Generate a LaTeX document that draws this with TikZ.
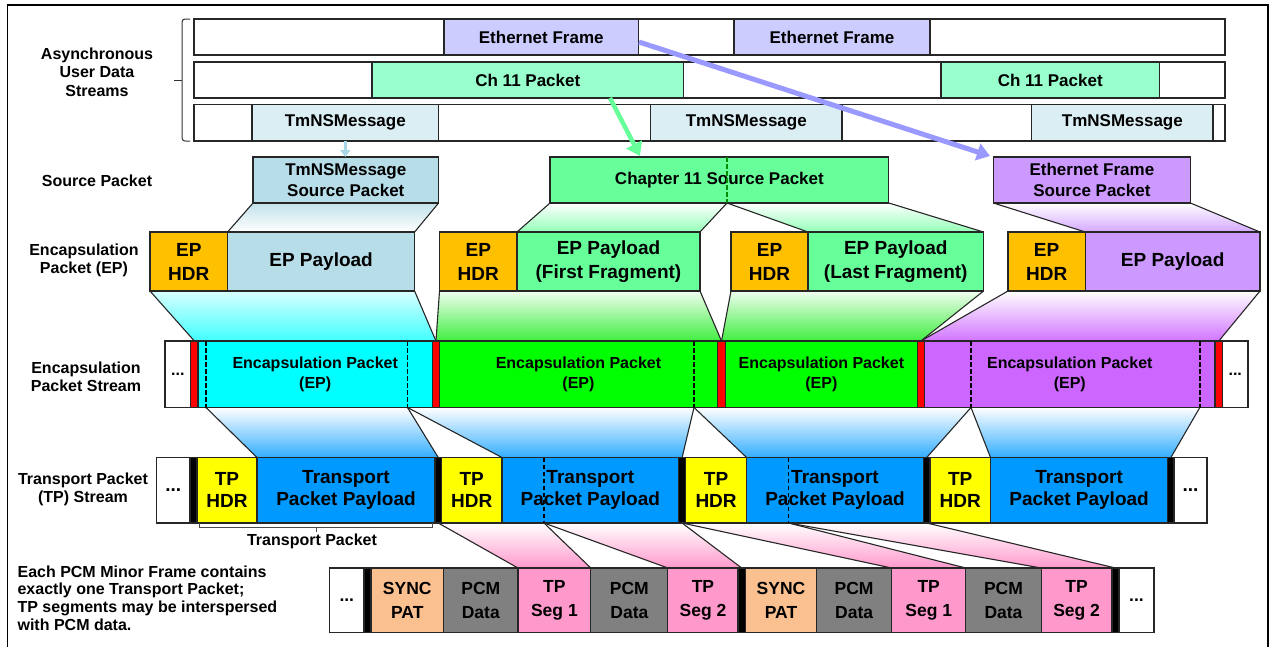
\documentclass[tikz,border=0pt]{standalone}
\usepackage{fontspec}
\setmainfont{Liberation Sans}
\usetikzlibrary{arrows.meta}
\pgfdeclarelayer{bg}
\pgfsetlayers{bg,main}
\newcommand\fszLab{\fontsize{16}{18.5}\selectfont}
\newcommand\fszTop{\fontsize{17}{21}\selectfont}
\newcommand\fszEP{\fontsize{19}{24}\selectfont}
\newcommand\fszStr{\fontsize{16}{20.5}\selectfont}
\newcommand\fszTP{\fontsize{19}{22}\selectfont}
\newcommand\fszPCM{\fontsize{17.5}{24}\selectfont}
\newcommand\fszNote{\fontsize{16}{17.6}\selectfont}
\definecolor{ethc}{HTML}{CCCCFF}
\definecolor{chc}{HTML}{99FFCC}
\definecolor{tmc}{HTML}{DBEEF4}
\definecolor{tmsc}{HTML}{B7DDE8}
\definecolor{grsc}{HTML}{66FF99}
\definecolor{pusc}{HTML}{CC99FF}
\definecolor{hdrc}{HTML}{FFC000}
\definecolor{cyanc}{HTML}{00FFFF}
\definecolor{grnc}{HTML}{00FF00}
\definecolor{grtc}{HTML}{40EE40}
\definecolor{purc}{HTML}{CC66FF}
\definecolor{redc}{HTML}{FF0000}
\definecolor{yelc}{HTML}{FFFF00}
\definecolor{bluc}{HTML}{0099FF}
\definecolor{peac}{HTML}{FAC090}
\definecolor{grac}{HTML}{808080}
\definecolor{pinc}{HTML}{FF99CC}
\definecolor{arrb}{HTML}{9999FF}
\definecolor{arrg}{HTML}{66FF99}
\definecolor{arrl}{HTML}{A8D8E8}
\newcommand\bx[8][]{\node[cell,fill=#7,minimum width={#4-#3},minimum height={#6-#5},#1] (#2) at ({(#3+#4)/2},{(#5+#6)/2}) {#8};}
\begin{document}
\begin{tikzpicture}[x=1pt,y=-1pt,
  cell/.style={draw=black!85,line width=1.1pt,inner sep=0pt,outer sep=0pt,align=center,text=black},
  lab/.style={align=center,inner sep=0pt,font=\bfseries\fszLab},
  side/.style={line width=1.1pt,draw=black!85},
  dsh/.style={line width=1.5pt,dash pattern=on 4.5pt off 2.5pt},
  fat/.style={line width=5pt,-{Triangle[length=13pt,width=17pt]}},
]
\useasboundingbox (0,0) rectangle (1276,646);
\draw[line width=1.8pt] (7.5,650) -- (7.5,5) -- (1268,5) -- (1268,650);

% ---------- asynchronous streams ----------
\begin{scope}[nodes={font=\bfseries\fszTop}]
\bx{rowA}{194}{1225}{19}{55}{white}{}
\bx{ethA}{444}{638.5}{19}{55}{ethc}{Ethernet Frame}
\bx{ethB}{734}{930}{19}{55}{ethc}{Ethernet Frame}
\bx{rowB}{194}{1225}{62}{98}{white}{}
\bx{chA}{372}{683.6}{62}{98}{chc}{Ch 11 Packet}
\bx{chB}{941}{1159.5}{62}{98}{chc}{Ch 11 Packet}
\bx{rowC}{194}{1225}{104.5}{141}{white}{}
\bx{tmA}{252}{438.6}{104.5}{141}{tmc}{TmNSMessage}
\bx{tmB}{650.6}{842}{104.5}{141}{tmc}{TmNSMessage}
\bx{tmC}{1031.7}{1213}{104.5}{141}{tmc}{TmNSMessage}
\end{scope}
\draw[line width=1pt,black!80,rounded corners=3pt] (190,19) -- (182,19) -- (182,141) -- (190,141);
\draw[line width=1pt,black!80] (182,80) -- (174,80);

% ---------- left labels ----------
\node[lab] (lasync) at (97,72) {Asynchronous\\User Data\\Streams};
\node[lab] (lsrc) at (97,180.5) {Source Packet};
\node[lab] (lep) at (84,260.5) {Encapsulation\\Packet (EP)};
\node[lab] (lstr) at (86,377) {Encapsulation\\Packet Stream};
\node[lab] (ltp) at (83,489.5) {Transport Packet\\(TP) Stream};
\node[align=left,anchor=north west,inner sep=0pt,font=\bfseries\fszNote] (lnote) at (17.4,565.5)
  {Each PCM Minor Frame contains\\exactly one Transport Packet;\\TP segments may be interspersed\\with PCM data.};

% ---------- source packets ----------
\begin{scope}[nodes={font=\bfseries\fszTop}]
\bx{srcT}{253}{438.6}{157}{203}{tmsc}{TmNSMessage\\Source Packet}
\bx{srcC}{550}{888.8}{157}{203}{grsc}{Chapter 11 Source Packet}
\bx{srcE}{993.4}{1190.4}{157}{203}{pusc}{Ethernet Frame\\Source Packet}
\end{scope}
\coordinate (splitC) at (727,203);
\draw[dsh,line width=1.1pt,color=green!55!black] (splitC |- srcC.north) -- (splitC);

% ---------- encapsulation packets ----------
\begin{scope}[nodes={font=\bfseries\fszEP}]
\bx{hdrA}{150}{227.6}{232}{291}{hdrc}{EP\\HDR}
\bx{payA}{227.6}{414.6}{232}{291}{tmsc}{EP Payload}
\bx{hdrB}{439.5}{517}{232}{291}{hdrc}{EP\\HDR}
\bx{payB}{517}{700}{232}{291}{grsc}{EP Payload\\(First Fragment)}
\bx{hdrC}{731}{808}{232}{291}{hdrc}{EP\\HDR}
\bx{payC}{808}{983.5}{232}{291}{grsc}{EP Payload\\(Last Fragment)}
\bx{hdrD}{1008}{1085.3}{232}{291}{hdrc}{EP\\HDR}
\bx{payD}{1085.3}{1260}{232}{291}{pusc}{EP Payload}
\end{scope}

% ---------- encapsulation packet stream ----------
\begin{scope}[nodes={font=\bfseries\fszStr,draw=none}]
\bx{sdotA}{165}{190.7}{341}{407.5}{white}{...}
\bx{redA}{190.7}{198}{341}{407.5}{redc}{}
\bx{epsA}{198}{432.4}{341}{407.5}{cyanc}{Encapsulation Packet\\(EP)}
\bx{redB}{432.4}{439.5}{341}{407.5}{redc}{}
\bx{epsB}{439.5}{717.4}{341}{407.5}{grnc}{Encapsulation Packet\\(EP)}
\bx{redC}{717.4}{725.6}{341}{407.5}{redc}{}
\bx{epsC}{725.6}{917.2}{341}{407.5}{grnc}{Encapsulation Packet\\(EP)}
\bx{redD}{917.2}{924.6}{341}{407.5}{redc}{}
\bx{epsD}{924.6}{1215}{341}{407.5}{purc}{Encapsulation Packet\\(EP)}
\bx{redE}{1215}{1222.5}{341}{407.5}{redc}{}
\bx{sdotB}{1222.5}{1248}{341}{407.5}{white}{...}
\end{scope}
\draw[side] (sdotA.north west) rectangle (sdotB.south east);
\coordinate (dA) at (206,407.5);
\coordinate (dB) at (407.5,407.5);
\coordinate (dC) at (694,407.5);
\coordinate (dD) at (971,407.5);
\coordinate (dE) at (1199.8,407.5);
\foreach \d in {dA,dB,dC,dD,dE} \draw[dsh] (\d |- epsA.north) -- (\d);

% ---------- transport packet stream ----------
\begin{scope}[nodes={font=\bfseries\fszTP}]
\bx{tdotA}{156.7}{190}{457.5}{523}{white}{...}
\bx{tbA}{190}{197}{457.5}{523}{black}{}
\bx{thA}{197}{257}{457.5}{523}{yelc}{TP\\HDR}
\bx{tpA}{257}{435}{457.5}{523}{bluc}{Transport\\Packet Payload}
\bx{tbB}{435}{441.5}{457.5}{523}{black}{}
\bx{thB}{441.5}{502}{457.5}{523}{yelc}{TP\\HDR}
\bx{tpB}{502}{678.6}{457.5}{523}{bluc}{Transport\\Packet Payload}
\bx{tbC}{678.6}{685.6}{457.5}{523}{black}{}
\bx{thC}{685.6}{746.6}{457.5}{523}{yelc}{TP\\HDR}
\bx{tpC}{746.6}{923.4}{457.5}{523}{bluc}{Transport\\Packet Payload}
\bx{tbD}{923.4}{930}{457.5}{523}{black}{}
\bx{thD}{930}{990.5}{457.5}{523}{yelc}{TP\\HDR}
\bx{tpD}{990.5}{1167.7}{457.5}{523}{bluc}{Transport\\Packet Payload}
\bx{tbE}{1167.7}{1174}{457.5}{523}{black}{}
\bx{tdotB}{1174}{1207}{457.5}{523}{white}{...}
\end{scope}
\coordinate (tsB) at (544,523);
\coordinate (tsC) at (788.6,523);
\draw[dsh] (tsB |- tpB.north) -- (tsB);
\draw[dsh] (tsC |- tpC.north) -- (tsC);
\draw[line width=0.8pt,black!70] (199,522.5) -- (199,527.5) -- (432,527.5) -- (432,522.5);
\draw[line width=0.8pt,black!70] (316,527.5) -- (316,531.5);
\node[lab] (ltpk) at (312,541) {Transport Packet};

% ---------- PCM minor frames ----------
\begin{scope}[nodes={font=\bfseries\fszPCM}]
\bx{pdotA}{329.6}{364}{568}{632.5}{white}{...}
\bx{pbA}{364}{371}{568}{632.5}{black}{}
\bx{syA}{371}{443.6}{568}{632.5}{peac}{SYNC\\PAT}
\bx{pmA}{443.6}{518}{568}{632.5}{grac}{PCM\\Data}
\bx{sgA}{518}{590.8}{568}{632.5}{pinc}{TP\\Seg 1}
\bx{pmB}{590.8}{667.9}{568}{632.5}{grac}{PCM\\Data}
\bx{sgB}{667.9}{738}{568}{632.5}{pinc}{TP\\Seg 2}
\bx{pbB}{738}{745.4}{568}{632.5}{black}{}
\bx{syB}{745.4}{816.6}{568}{632.5}{peac}{SYNC\\PAT}
\bx{pmC}{816.6}{891.6}{568}{632.5}{grac}{PCM\\Data}
\bx{sgC}{891.6}{965.8}{568}{632.5}{pinc}{TP\\Seg 1}
\bx{pmD}{965.8}{1041.2}{568}{632.5}{grac}{PCM\\Data}
\bx{sgD}{1041.2}{1112}{568}{632.5}{pinc}{TP\\Seg 2}
\bx{pbC}{1112}{1119}{568}{632.5}{black}{}
\bx{pdotB}{1119}{1154}{568}{632.5}{white}{...}
\end{scope}

% ---------- gradient trapezoids ----------
\begin{pgfonlayer}{bg}
\shade[top color=tmsc!85,bottom color=white] (srcT.south west) -- (srcT.south east) -- (payA.north east) -- (payA.north west) -- cycle;
\shade[top color=white,bottom color=grsc!70] (srcC.south west) -- (splitC) -- (payB.north east) -- (payB.north west) -- cycle;
\shade[top color=white,bottom color=grsc!70] (splitC) -- (srcC.south east) -- (payC.north east) -- (payC.north west) -- cycle;
\shade[top color=white,bottom color=pusc!85] (srcE.south west) -- (srcE.south east) -- (payD.north east) -- (payD.north west) -- cycle;
\shade[top color=cyanc!15,bottom color=cyanc!75] (hdrA.south west) -- (payA.south east) -- (redB.north) -- (redA.north) -- cycle;
\shade[top color=grtc!8,bottom color=grtc] (hdrB.south west) -- (payB.south east) -- (redC.north) -- (redB.north) -- cycle;
\shade[top color=grtc!8,bottom color=grtc] (hdrC.south west) -- (payC.south east) -- (redD.north) -- (redC.north) -- cycle;
\shade[top color=white,bottom color=purc!90] (hdrD.south west) -- (payD.south east) -- (redE.north) -- (redD.north) -- cycle;
\foreach \a/\b/\c/\d in {dA/dB/tbB/tpA,dB/dC/tbC/tpB,dC/dD/tbD/tpC,dD/dE/tbE/tpD}
  \shade[top color=white,bottom color=bluc!80] (\a) -- (\b) -- (\c.north) -- (\d.north west) -- cycle;
\shade[top color=white,bottom color=pinc] (tbB.south) -- (tsB) -- (sgA.north east) -- (sgA.north west) -- cycle;
\shade[top color=white,bottom color=pinc] (tsB) -- (tbC.south) -- (pbB.north) -- (sgB.north west) -- cycle;
\shade[top color=white,bottom color=pinc] (tbC.south) -- (tsC) -- (sgC.north east) -- (sgC.north west) -- cycle;
\shade[top color=white,bottom color=pinc] (tsC) -- (tbD.south) -- (pbC.north) -- (sgD.north west) -- cycle;
\end{pgfonlayer}

% trapezoid sides
\draw[side] (srcT.south west) -- (payA.north west) (srcT.south east) -- (payA.north east);
\draw[side] (srcC.south west) -- (payB.north west) (splitC) -- (payB.north east);
\draw[side] (splitC) -- (payC.north west) (srcC.south east) -- (payC.north east);
\draw[side] (srcE.south west) -- (payD.north west) (srcE.south east) -- (payD.north east);
\draw[side] (hdrA.south west) -- (redA.north) (payA.south east) -- (redB.north);
\draw[side] (hdrB.south west) -- (redB.north) (payB.south east) -- (redC.north);
\draw[side] (hdrC.south west) -- (redC.north) (payC.south east) -- (redD.north);
\draw[side] (hdrD.south west) -- (redD.north) (payD.south east) -- (redE.north);
\foreach \a/\b/\c/\d in {dA/dB/tbB/tpA,dB/dC/tbC/tpB,dC/dD/tbD/tpC,dD/dE/tbE/tpD}
  \draw[side] (\a) -- (\d.north west) (\b) -- (\c.north);
\draw[side] (tbB.south) -- (sgA.north west) (tsB) -- (sgA.north east);
\draw[side] (tsB) -- (sgB.north west) (tbC.south) -- (pbB.north);
\draw[side] (tbC.south) -- (sgC.north west) (tsC) -- (sgC.north east);
\draw[side] (tsC) -- (sgD.north west) (tbD.south) -- (pbC.north);

% ---------- arrows ----------
\draw[arrl,line width=3pt,-{Triangle[length=7pt,width=10pt]}] (tmA.south) -- (tmA.south |- srcT.north);
\coordinate (gS) at (610,98);
\coordinate (gE) at (640,156);
\draw[arrg,fat,line width=4.5pt] (gS) -- (gE);
\coordinate (lS) at (639,42);
\coordinate (lE) at (990,156);
\draw[arrb,fat] (lS) -- (lE);
\end{tikzpicture}
\end{document}
